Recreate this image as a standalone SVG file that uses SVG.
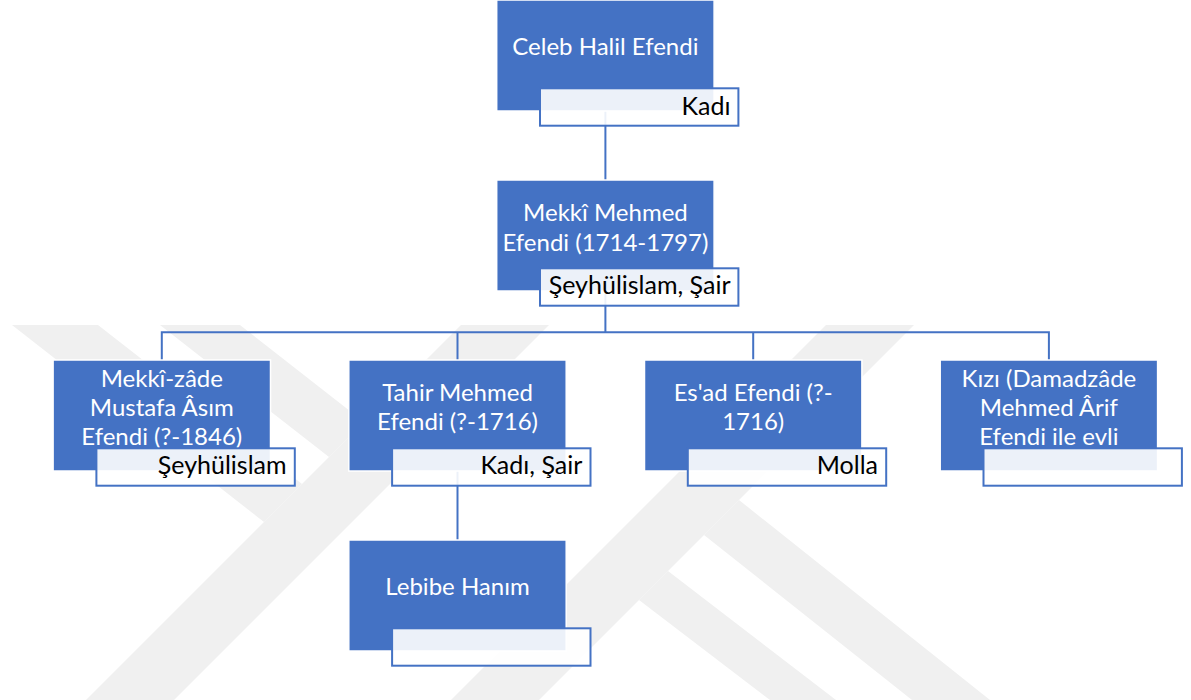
<svg xmlns="http://www.w3.org/2000/svg" width="1191" height="700" viewBox="0 0 1191 700">
<style>
.box{fill:#4472C4;stroke:#fff;stroke-width:1.5}
.lbl{fill:#fff;fill-opacity:0.9;stroke:#4472C4;stroke-width:2}
.nm{font-family:Lato,"Open Sans",sans-serif;font-size:24px;fill:#fff;text-anchor:middle}
.lt{font-family:Lato,"Open Sans",sans-serif;font-size:25px;fill:#000;text-anchor:end}
.cn{fill:none;stroke:#4472C4;stroke-width:2}
.wm{fill:#F0F0F0}
</style>
<rect width="1191" height="700" fill="#fff"/>
<g id="watermark">
<polygon class="wm" points="461,325 549,325 174,700 86,700"/>
<polygon class="wm" points="12,325 98,325 302,484 264,522"/>
<polygon class="wm" points="160,325 240,325 364,422 329,457"/>
<polygon class="wm" points="826,325 914,325 539,700 451,700"/>
<polygon class="wm" points="739,500 990,700 912,700 704,535"/>
<polygon class="wm" points="668,571 836,700 770,700 639,600"/>
</g>
<g id="connectors">
<path class="cn" d="M605.4,110 V180"/>
<path class="cn" d="M605.4,290 V332.3 M161.8,360 V332.3 H1048.9 V360 M457.5,332.3 V360 M753.2,332.3 V360"/>
<path class="cn" d="M457.5,470 V540"/>
</g>
<g id="n1">
<rect class="box" x="496.7" y="0" width="217.4" height="111"/>
<text class="nm" x="605.4" y="55">Celeb Halil Efendi</text>
<rect class="lbl" x="540" y="88.3" width="198.4" height="37.4"/>
<text class="lt" x="730.5" y="115">Kadı</text>
</g>
<g id="n2">
<rect class="box" x="496.7" y="180" width="217.4" height="111"/>
<text class="nm" x="605.4" y="221">Mekkî Mehmed</text>
<text class="nm" x="605.4" y="251">Efendi (1714-1797)</text>
<rect class="lbl" x="540" y="268.3" width="198.4" height="37.4"/>
<text class="lt" x="730.5" y="294">Şeyhülislam, Şair</text>
</g>
<g id="n3">
<rect class="box" x="53.1" y="360" width="217.4" height="111"/>
<text class="nm" x="161.8" y="387">Mekkî-zâde</text>
<text class="nm" x="161.8" y="416">Mustafa Âsım</text>
<text class="nm" x="161.8" y="445">Efendi (?-1846)</text>
<rect class="lbl" x="96.4" y="448.3" width="198.4" height="37.4"/>
<text class="lt" x="286.6" y="474">Şeyhülislam</text>
</g>
<g id="n4">
<rect class="box" x="348.8" y="360" width="217.4" height="111"/>
<text class="nm" x="457.5" y="401">Tahir Mehmed</text>
<text class="nm" x="457.5" y="430">Efendi (?-1716)</text>
<rect class="lbl" x="392.1" y="448.3" width="198.4" height="37.4"/>
<text class="lt" x="582.3" y="474">Kadı, Şair</text>
</g>
<g id="n5">
<rect class="box" x="644.5" y="360" width="217.4" height="111"/>
<text class="nm" x="753.2" y="401">Es'ad Efendi (?-</text>
<text class="nm" x="753.2" y="430">1716)</text>
<rect class="lbl" x="687.8" y="448.3" width="198.4" height="37.4"/>
<text class="lt" x="878" y="474">Molla</text>
</g>
<g id="n6">
<rect class="box" x="940.2" y="360" width="217.4" height="111"/>
<text class="nm" x="1048.9" y="387">Kızı (Damadzâde</text>
<text class="nm" x="1048.9" y="416">Mehmed Ârif</text>
<text class="nm" x="1048.9" y="445">Efendi ile evli</text>
<rect class="lbl" x="983.5" y="448.3" width="198.4" height="37.4"/>
</g>
<g id="n7">
<rect class="box" x="348.8" y="540" width="217.4" height="111"/>
<text class="nm" x="457.5" y="595">Lebibe Hanım</text>
<rect class="lbl" x="392.1" y="628.3" width="198.4" height="37.4"/>
</g>
</svg>
